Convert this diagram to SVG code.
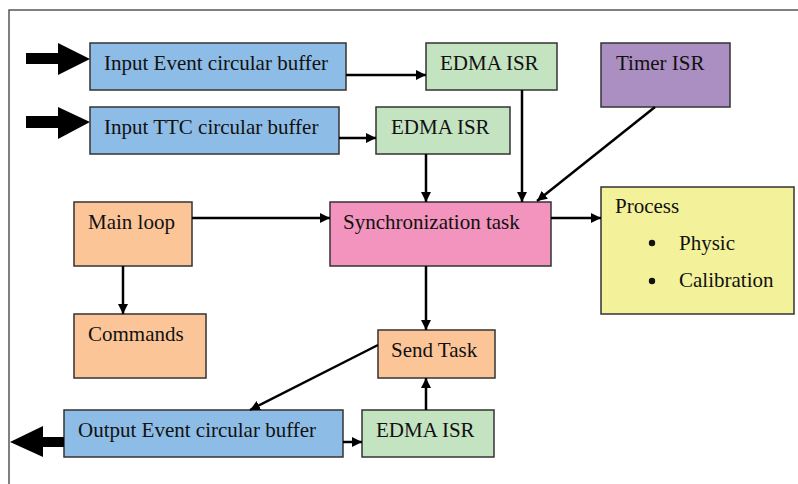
<svg xmlns="http://www.w3.org/2000/svg" width="798" height="484" viewBox="0 0 798 484">
<defs>
<marker id="ah" viewBox="0 0 10 10" refX="10" refY="5" markerWidth="10" markerHeight="10" markerUnits="userSpaceOnUse" orient="auto">
<path d="M0,0 L10,5 L0,10 Z" fill="#000"/>
</marker>
</defs>
<style>
.box{stroke:#333;stroke-width:1.5}
.blue{fill:#8dbde6}.green{fill:#c4e3c1}.purple{fill:#ab8fc3}.pink{fill:#f294bd}.peach{fill:#fbc598}.yellow{fill:#f3f29a}
text{font-family:"Liberation Serif","Times New Roman",serif;font-size:21px;fill:#111}
.c{stroke:#000;stroke-width:2.5;fill:none;marker-end:url(#ah)}
</style>
<rect width="798" height="484" fill="#fff"/>
<path d="M9,484 L9,10 L798,10" fill="none" stroke="#555" stroke-width="1.5"/>
<g id="in-event"><rect class="box blue" x="90" y="43" width="256" height="47"/><text x="104" y="70">Input Event circular buffer</text></g>
<g id="in-ttc"><rect class="box blue" x="90" y="107" width="249" height="47"/><text x="104" y="134">Input TTC circular buffer</text></g>
<g id="edma1"><rect class="box green" x="426" y="43" width="131" height="47"/><text x="440" y="70">EDMA ISR</text></g>
<g id="edma2"><rect class="box green" x="376" y="107" width="134" height="47"/><text x="391" y="134">EDMA ISR</text></g>
<g id="timer"><rect class="box purple" x="601" y="43" width="129" height="64"/><text x="616" y="70">Timer ISR</text></g>
<g id="main"><rect class="box peach" x="74" y="202" width="118" height="64"/><text x="88" y="229">Main loop</text></g>
<g id="sync"><rect class="box pink" x="330" y="202" width="221" height="64"/><text x="343" y="229">Synchronization task</text></g>
<g id="process"><rect class="box yellow" x="601" y="187" width="193" height="127"/><text x="615" y="213">Process</text><circle cx="652" cy="243" r="3.2" fill="#111"/><text x="679" y="250">Physic</text><circle cx="652" cy="281" r="3.2" fill="#111"/><text x="679" y="287">Calibration</text></g>
<g id="commands"><rect class="box peach" x="74" y="314" width="132" height="64"/><text x="88" y="341">Commands</text></g>
<g id="send"><rect class="box peach" x="378" y="330" width="117" height="48"/><text x="391" y="357">Send Task</text></g>
<g id="out-event"><rect class="box blue" x="64" y="410" width="279" height="47"/><text x="78" y="437">Output Event circular buffer</text></g>
<g id="edma3"><rect class="box green" x="362" y="410" width="132" height="47"/><text x="376" y="437">EDMA ISR</text></g>
<g id="connectors">
<path d="M26,53 H58 V43 L90,59 L58,75 V64 H26 Z" fill="#000"/>
<path d="M26,116 H58 V107 L90,122 L58,139 V128 H26 Z" fill="#000"/>
<path d="M64,437 H43 V426 L10,442 L43,457 V447 H64 Z" fill="#000"/>
<path class="c" d="M346,75 H426"/>
<path class="c" d="M339,138 H376"/>
<path class="c" d="M522,90 V202"/>
<path class="c" d="M426,154 V202"/>
<path class="c" d="M655,107 L537,201"/>
<path class="c" d="M192,218 H330"/>
<path class="c" d="M551,218 H601"/>
<path class="c" d="M123,266 V314"/>
<path class="c" d="M426,266 V330"/>
<path class="c" d="M426,410 V378"/>
<path class="c" d="M343,442 H362"/>
<path class="c" d="M378,345 L250,410"/>
</g>
</svg>
